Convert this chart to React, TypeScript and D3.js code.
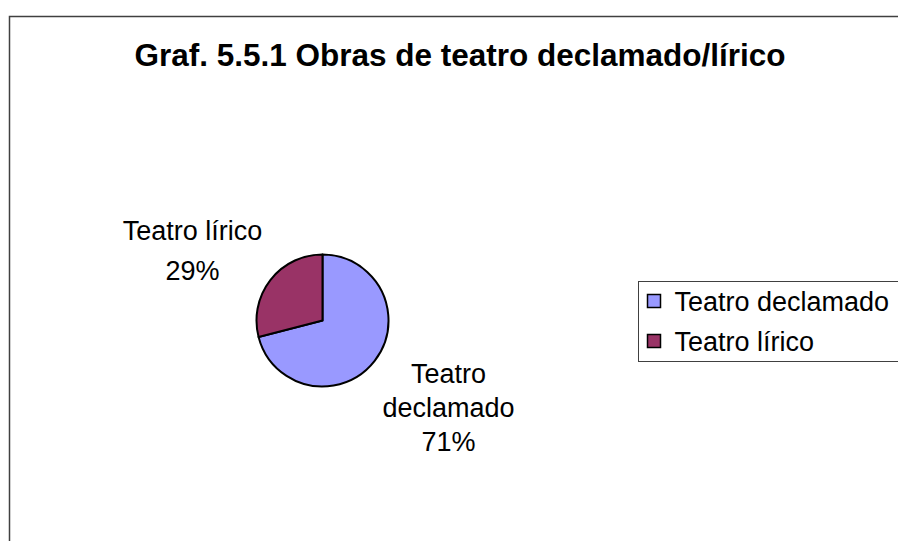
import { useRef, useEffect } from 'react'
import * as d3 from 'd3'

const categories = ['Teatro declamado', 'Teatro lírico']
const shares = [71, 29]
const pieLabels = [['Teatro', 'declamado', '71%'], ['Teatro lírico', '29%']]
const colors = ['#9999FF', '#993366']
const title = 'Graf. 5.5.1 Obras de teatro declamado/lírico'

export default function App() {
  const svgRef = useRef<SVGSVGElement | null>(null)

  useEffect(() => {
    if (!svgRef.current) return
    const svg = d3.select(svgRef.current)
    svg.selectAll('*').remove()

    const width = 898
    const height = 541
    const font = 'Arial, "Liberation Sans", sans-serif'

    svg.attr('width', width).attr('height', height)

    svg.append('rect')
      .attr('width', width).attr('height', height)
      .style('fill', '#ffffff')

    // chart area border (runs off the right and bottom edges)
    svg.append('rect')
      .attr('x', 9.5).attr('y', 16.5)
      .attr('width', 960).attr('height', 600)
      .style('fill', 'none')
      .style('stroke', '#404040')
      .style('stroke-width', 1.5)

    svg.append('text')
      .attr('x', 460).attr('y', 66)
      .attr('text-anchor', 'middle')
      .style('font-family', font)
      .style('font-weight', 'bold')
      .style('font-size', '31.5px')
      .text(title)

    const cx = 322.5
    const cy = 320.5
    const radius = 66

    const pie = d3.pie<number>().sort(null).value(d => d)
    const arcs = pie(shares)
    const arc = d3.arc<d3.PieArcDatum<number>>().innerRadius(0).outerRadius(radius)

    const g = svg.append('g').attr('transform', `translate(${cx},${cy})`)

    g.selectAll('path')
      .data(arcs)
      .enter()
      .append('path')
      .attr('d', arc)
      .style('fill', (d, i) => colors[i])
      .style('stroke', '#000')
      .style('stroke-width', 2)
      .style('stroke-linejoin', 'round')

    // data labels, placed outside the slices
    const labelOffsets = [[126, 62], [-130, -81]]
    const lineH = [34, 40]
    arcs.forEach((a, i) => {
      const t = g.append('text')
        .attr('text-anchor', 'middle')
        .style('font-family', font)
        .style('font-size', '27px')
      pieLabels[i].forEach((line, j) => {
        t.append('tspan')
          .attr('x', labelOffsets[i][0])
          .attr('y', labelOffsets[i][1] + j * lineH[i])
          .text(line)
      })
    })

    // legend
    const lx = 638.5
    const ly = 281.5
    svg.append('rect')
      .attr('x', lx).attr('y', ly)
      .attr('width', 300).attr('height', 80)
      .style('fill', 'none')
      .style('stroke', '#404040')
      .style('stroke-width', 1)

    const row = d3.scaleBand().domain(categories).range([ly, ly + 80]).padding(0)

    const items = svg.selectAll('.leg')
      .data(categories)
      .enter()
      .append('g')
      .attr('transform', d => `translate(${lx},${(row(d) ?? 0) + row.bandwidth() / 2})`)

    items.append('rect')
      .attr('x', 9).attr('y', -7)
      .attr('width', 13).attr('height', 13)
      .style('fill', (d, i) => colors[i])
      .style('stroke', '#000')
      .style('stroke-width', 1.5)

    items.append('text')
      .attr('x', 36).attr('y', 9)
      .style('font-family', font)
      .style('font-size', '27px')
      .text(d => d)
  }, [])

  return (
    <svg ref={svgRef} style={{ position: 'absolute', left: 0, top: 0, display: 'block' }} />
  )
}
